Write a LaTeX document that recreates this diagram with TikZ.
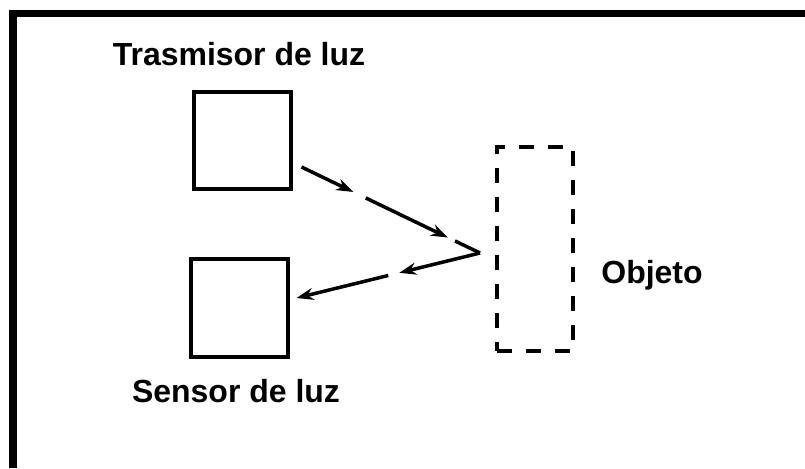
\documentclass[tikz,border=0pt]{standalone}
\usepackage{fontspec}
\setmainfont{Liberation Sans}
\usepackage{tikz}
\usetikzlibrary{arrows.meta, calc}

\begin{document}
\begin{tikzpicture}[
  x=0.02cm, y=-0.02cm,
  box/.style={rectangle, draw=black, line width=0.08cm, minimum size=1.96cm, inner sep=0pt},
  target/.style={rectangle, draw=black, line width=0.08cm, dash pattern=on 0.3cm off 0.28cm, minimum width=1.52cm, minimum height=4.08cm, inner sep=0pt},
  lbl/.style={anchor=base, font=\fontsize{18.2}{20}\selectfont\bfseries},
  ray/.style={line width=0.07cm, -{Stealth[length=0.34cm, width=0.24cm]}}
]
  \useasboundingbox (0,0) rectangle (805,468);
  \draw[line width=0.15cm] (13,468) -- (13,13.5) -- (805,13.5);

  \node[box] (tx) at (242.5,140.5) {};
  \node[box] (rx) at (239.5,308) {};
  \node[target] (obj) at (535,249) {};

  \node[lbl] (txlabel) at (239,65) {Trasmisor de luz};
  \node[lbl] (rxlabel) at (236,402) {Sensor de luz};
  \node[lbl] (objlabel) at (652,283) {Objeto};

  \coordinate (out) at ($(tx.east)+(8,26.5)$);
  \coordinate (hit) at ($(obj.west)+(-15,4)$);
  \coordinate (in) at ($(rx.east)+(6,-10)$);

  % light going out
  \draw[ray] (out) -- ($(out)!0.29!(hit)$);
  \draw[ray] ($(out)!0.36!(hit)$) -- ($(out)!0.82!(hit)$);
  \draw[ray, -] ($(out)!0.86!(hit)$) -- (hit);
  % light coming back
  \draw[ray] (hit) -- ($(hit)!0.44!(in)$);
  \draw[ray] ($(hit)!0.5!(in)$) -- (in);
\end{tikzpicture}
\end{document}
